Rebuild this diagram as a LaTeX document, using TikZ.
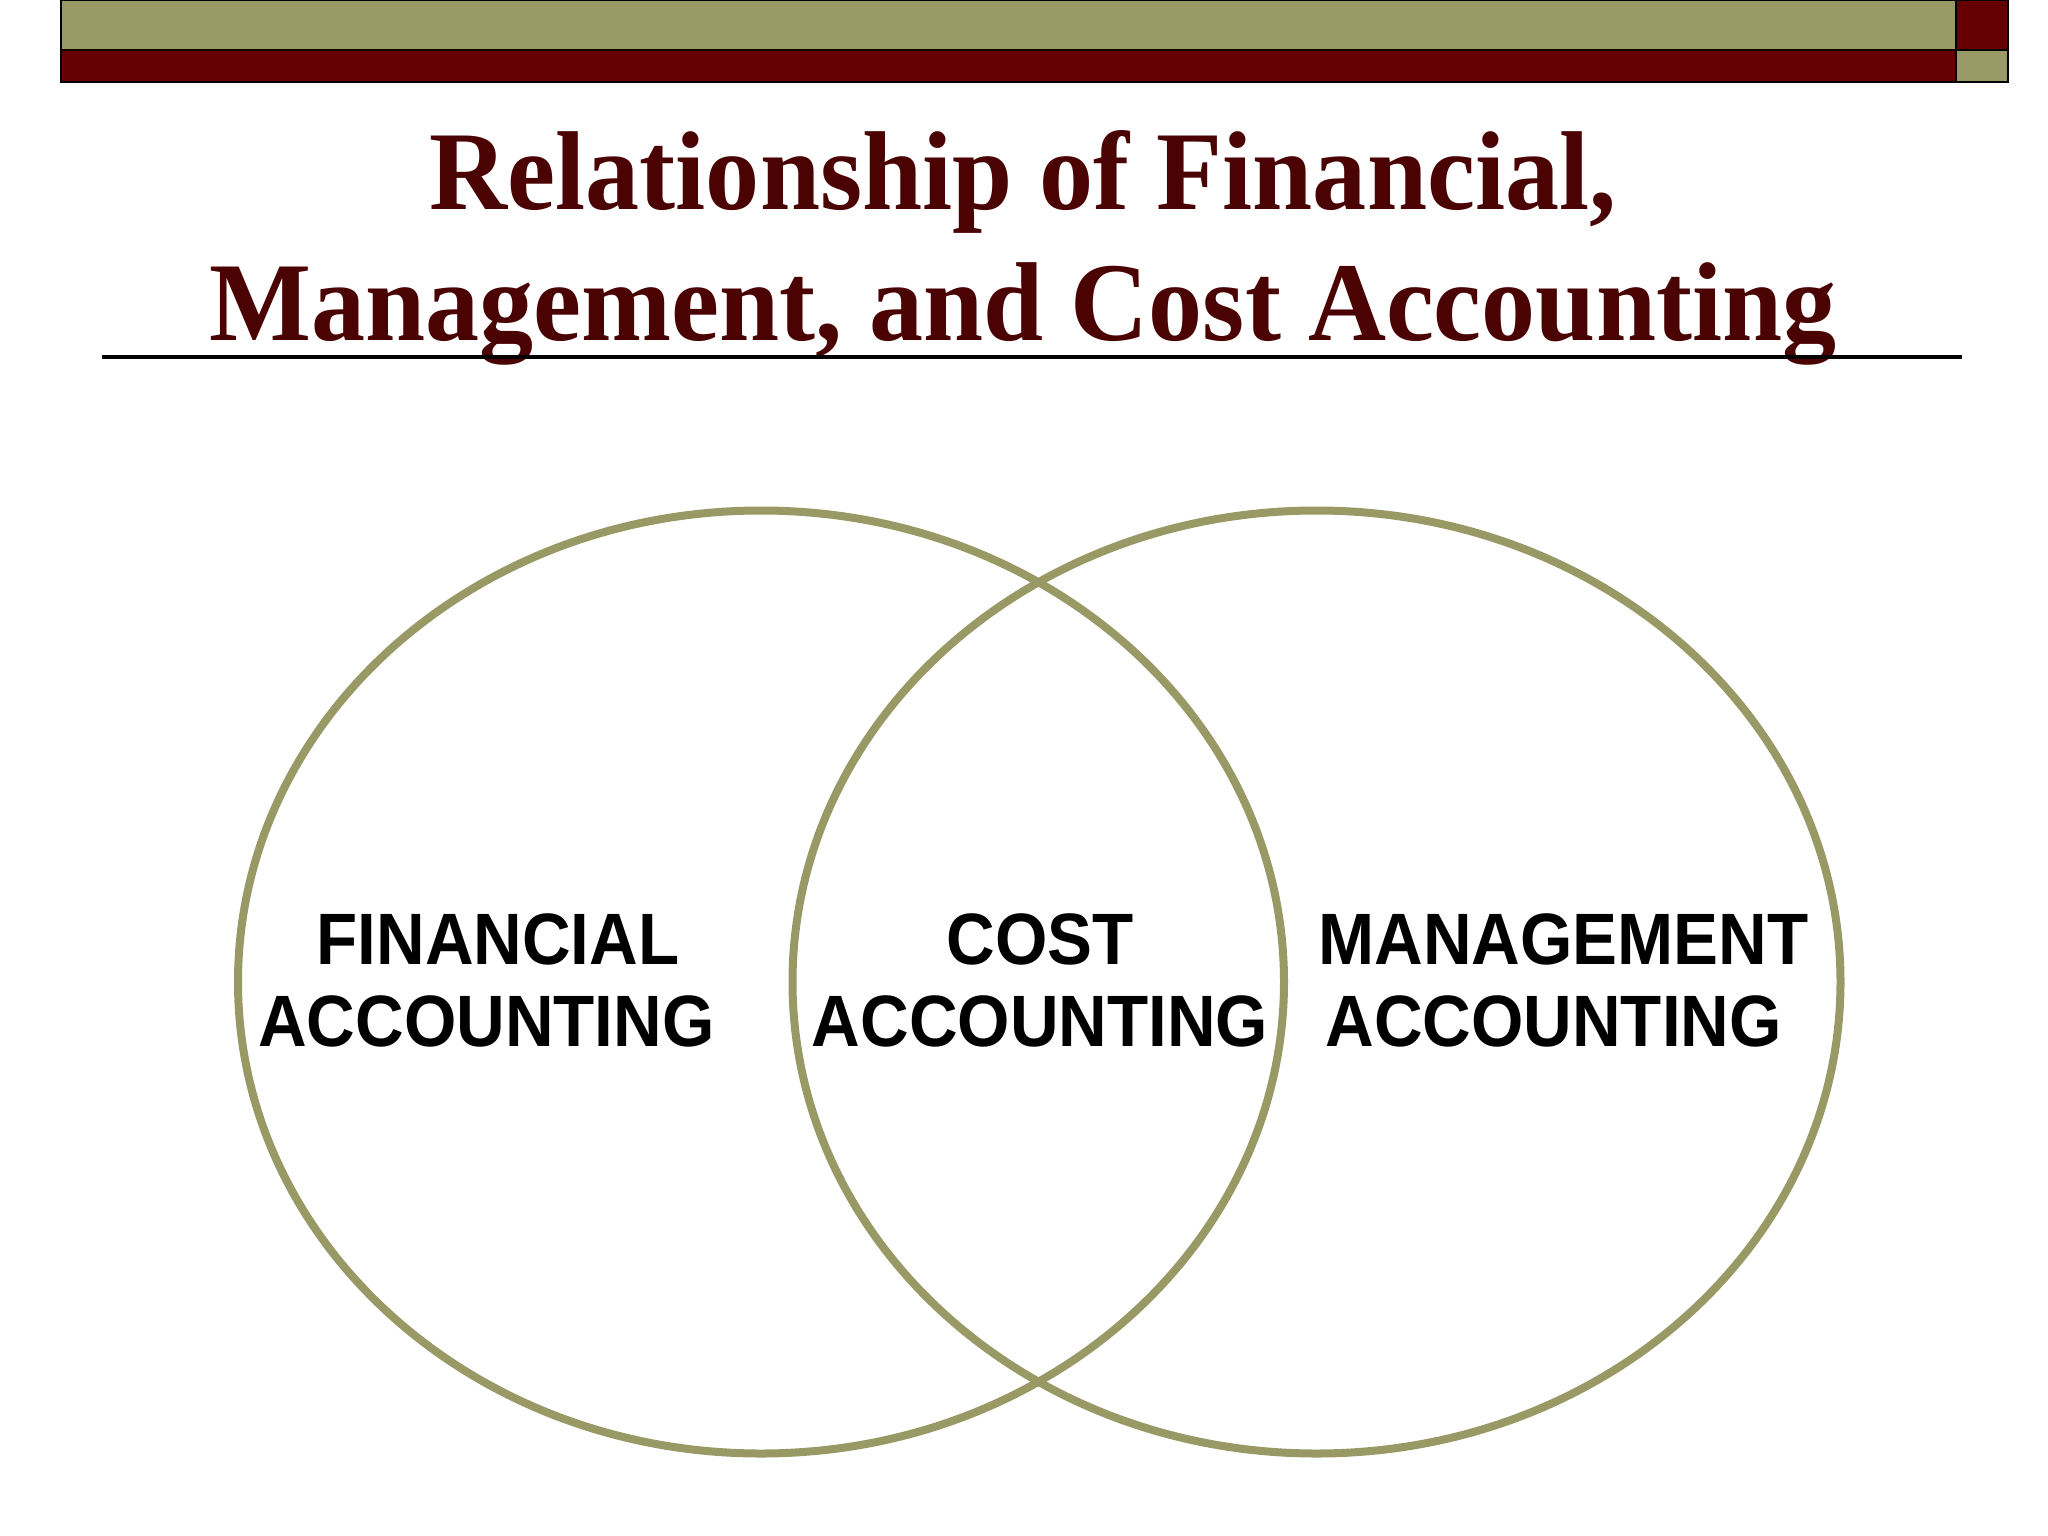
\documentclass[tikz,border=0pt]{standalone}
\usepackage{fontspec}
\usepackage{graphicx}
\newfontfamily\titlefont{Liberation Serif}
\newfontfamily\labelfont{Liberation Sans}
\definecolor{olive}{RGB}{153,153,102}
\definecolor{barred}{RGB}{102,0,0}
\definecolor{titlered}{RGB}{74,2,2}
\tikzset{
  barbox/.style={draw=black, line width=0.022cm},
  venn/.style={draw=olive, line width=0.08cm},
  titletext/.style={anchor=base, inner sep=0pt, text=titlered, font=\titlefont\bfseries\fontsize{31.9}{36}\selectfont},
  labeltext/.style={anchor=base, inner sep=0pt, text=black, font=\labelfont\bfseries\fontsize{20.7}{24}\selectfont}
}
\begin{document}
\begin{tikzpicture}[x=0.01cm, y=-0.01cm]
\useasboundingbox (0,0) rectangle (2048,1536);
\fill[white] (0,0) rectangle (2048,1536);
% top bars
\draw[barbox, fill=olive] (61,0) rectangle (1956,50);
\draw[barbox, fill=barred] (61,50) rectangle (1956,82);
\draw[barbox, fill=barred] (1956,0) rectangle (2008,50);
\draw[barbox, fill=olive] (1956,50) rectangle (2008,82);
% title
\node[titletext] (t1) at (1023,209) {\scalebox{0.964}[1]{Relationship of Financial,}};
\node[titletext] (t2) at (1023,340) {\scalebox{0.963}[1]{Management, and Cost Accounting}};
\draw[line width=0.032cm] (102,357) -- (1962,357);
% venn
\draw[venn] (761,982) ellipse [x radius=523, y radius=471.5];
\draw[venn] (1316.5,982) ellipse [x radius=524, y radius=471.5];
% labels
\node[labeltext] (f1) at (498,964) {\scalebox{0.925}[1]{FINANCIAL}};
\node[labeltext] (f2) at (486.5,1046) {\scalebox{0.925}[1]{ACCOUNTING}};
\node[labeltext] (c1) at (1040,964) {\scalebox{0.925}[1]{COST}};
\node[labeltext] (c2) at (1040,1046) {\scalebox{0.925}[1]{ACCOUNTING}};
\node[labeltext] (m1) at (1563.5,964) {\scalebox{0.925}[1]{MANAGEMENT}};
\node[labeltext] (m2) at (1553.6,1046) {\scalebox{0.925}[1]{ACCOUNTING}};
\end{tikzpicture}
\end{document}
